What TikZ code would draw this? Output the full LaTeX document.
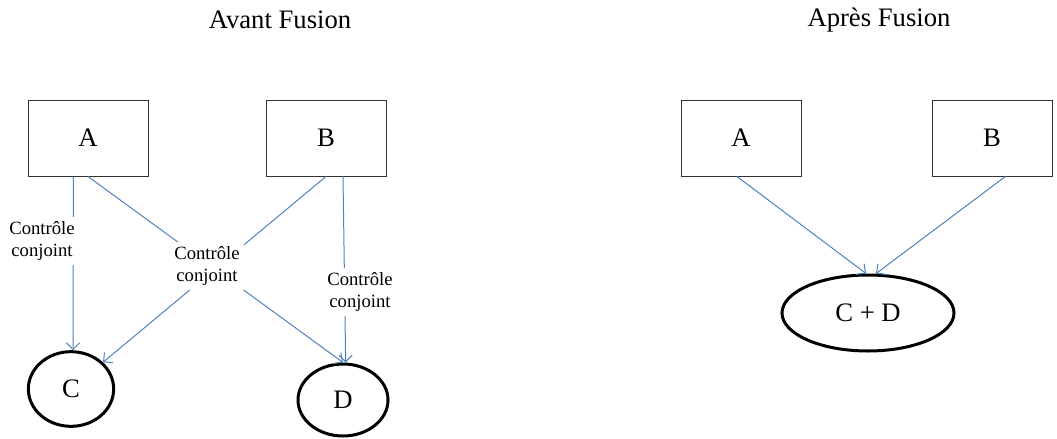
\documentclass[tikz,border=0pt]{standalone}
\usepackage{fontspec}
\setmainfont{Liberation Serif}
\usetikzlibrary{shapes.geometric,arrows.meta}
\definecolor{linkblue}{RGB}{79,129,189}

\begin{document}
\begin{tikzpicture}
  [x=0.75pt,y=-0.75pt,
   heading/.style={font=\fontsize{20}{24}\selectfont},
   entity/.style={rectangle,draw=black!80,line width=0.75pt,minimum width=90pt,minimum height=57pt,inner sep=0pt,font=\fontsize{20}{24}\selectfont},
   target/.style={ellipse,draw=black,line width=2.25pt,inner sep=0pt,font=\fontsize{20}{24}\selectfont},
   ctrl/.style={draw=linkblue,line width=0.75pt,-{Straight Barb[length=5pt,width=10pt]}},
   ctrllabel/.style={fill=white,inner sep=3pt,align=center,font=\fontsize{14}{17}\selectfont}]
  \useasboundingbox (0,0) rectangle (1057,439);
  \node at (280,20) (avant) [heading] {Avant Fusion};
  \node at (879,20) (apres) [heading] {Après Fusion};
  \node at (88,138) (a1) [entity] {A};
  \node at (326,138) (b1) [entity] {B};
  \node at (71,389) (c) [target,minimum width=64pt,minimum height=56pt] {C};
  \node at (343,400) (d) [target,minimum width=67.5pt,minimum height=54pt] {D};
  \node at (741,138) (a2) [entity] {A};
  \node at (992,138) (b2) [entity] {B};
  \node at (868,313) (cd) [target,minimum width=129pt,minimum height=57pt] {C + D};
  \draw [ctrl] ([xshift=-11pt]a1.south) to ([xshift=1.5pt]c.north);
  \draw [ctrl] (a1.south) to (d.north);
  \draw [ctrl] (b1.south) to (c);
  \draw [ctrl] ([xshift=12.75pt]b1.south) to ([xshift=2pt]d.north);
  \draw [ctrl] ([xshift=-3pt]a2.south) to ([xshift=-1.5pt]cd.north);
  \draw [ctrl] ([xshift=10pt]b2.south) to ([xshift=6pt]cd.north);
  \node at (42,241) (l1) [ctrllabel] {Contrôle\\conjoint};
  \node at (207,266) (l2) [ctrllabel] {Contrôle\\conjoint};
  \node at (360,292) (l3) [ctrllabel] {Contrôle\\conjoint};
\end{tikzpicture}
\end{document}
